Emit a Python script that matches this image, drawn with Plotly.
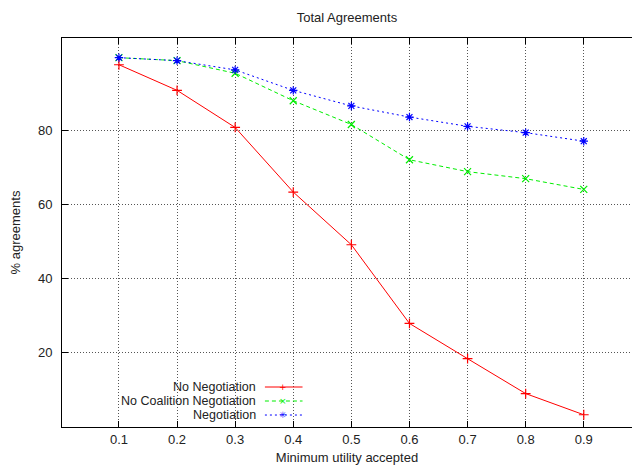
import plotly.graph_objects as go

x_vals = [0.1, 0.2, 0.3, 0.4, 0.5, 0.6, 0.7, 0.8, 0.9]
no_negotiation = [97.6, 90.7, 80.7, 63.3, 49.1, 27.9, 18.4, 9.0, 3.3]
no_coalition = [99.5, 98.7, 95.3, 87.9, 81.5, 72.0, 68.8, 66.9, 64.0]
negotiation = [99.5, 98.7, 96.2, 90.7, 86.5, 83.5, 81.0, 79.3, 77.0]

series_names = ["No Negotiation", "No Coalition Negotiation", "Negotiation"]
x_ticks = [0.1, 0.2, 0.3, 0.4, 0.5, 0.6, 0.7, 0.8, 0.9]
y_ticks = [20, 40, 60, 80]

FONT = "Liberation Sans, Arial, Helvetica, sans-serif"
FS = 13

fig = go.Figure()
styles = [
    dict(color="#ff0000", dash="solid", symbol="cross-thin-open"),
    dict(color="#00ee00", dash="4px,3px", symbol="x-thin-open"),
    dict(color="#0000ff", dash="2px,3px", symbol="asterisk-open"),
]
for name, ys, st in zip(series_names, [no_negotiation, no_coalition, negotiation], styles):
    fig.add_trace(go.Scatter(
        x=x_vals, y=ys, name=name, mode="lines+markers",
        line=dict(color=st["color"], width=1, dash=st["dash"]),
        marker=dict(symbol=st["symbol"], size=7, color=st["color"],
                    line=dict(color=st["color"], width=1.2)),
        showlegend=False,
    ))

# manual gnuplot-style legend (text left, key right)
leg_y = [0.1028, 0.0668, 0.0308]
glyphs = ["+", "×", "✳"]
for name, yy, st, g in zip(series_names, leg_y, styles, glyphs):
    fig.add_annotation(xref="paper", yref="paper", x=0.342, y=yy, text=name,
                       showarrow=False, xanchor="right", yanchor="middle",
                       borderpad=0,
                       font=dict(family=FONT, size=12.5, color="#222"))
    fig.add_shape(type="line", xref="paper", yref="paper", x0=0.356, x1=0.422,
                  y0=yy, y1=yy, line=dict(color=st["color"], width=1, dash=st["dash"]))
    fig.add_annotation(xref="paper", yref="paper", x=0.387, y=yy, text=g,
                       showarrow=False, xanchor="center", yanchor="middle",
                       borderpad=0,
                       font=dict(family="DejaVu Sans", size=9, color=st["color"]))

fig.update_layout(
    width=632, height=465,
    margin=dict(l=62, r=0, t=38, b=38),
    paper_bgcolor="white", plot_bgcolor="white",
    font=dict(family=FONT, size=FS, color="#222"),
    title=dict(text="Total Agreements", x=0.549, xanchor="center", y=0.963, yanchor="middle",
               font=dict(family=FONT, size=FS, color="#222")),
)
fig.update_xaxes(
    range=[0.002, 0.983], tickvals=x_ticks, ticktext=[str(v) for v in x_ticks],
    ticks="inside", ticklen=6, tickcolor="black", tickwidth=1,
    showline=True, linecolor="black", linewidth=1, mirror="ticks",
    showgrid=True, gridcolor="#555", griddash="1px,2px", gridwidth=1,
    zeroline=False,
    title=dict(text="Minimum utility accepted", standoff=11, font=dict(family=FONT, size=FS)),
    automargin=False,
)
fig.update_yaxes(
    range=[0, 104.8], tickvals=y_ticks,
    ticks="inside", ticklen=6, tickcolor="black", tickwidth=1,
    showline=True, linecolor="black", linewidth=1, mirror=False,
    showgrid=True, gridcolor="#555", griddash="1px,2px", gridwidth=1,
    zeroline=False, ticklabelstandoff=6,
    title=dict(text="% agreements", standoff=14, font=dict(family=FONT, size=FS)),
    automargin=False,
)

fig.write_html("out.html")
